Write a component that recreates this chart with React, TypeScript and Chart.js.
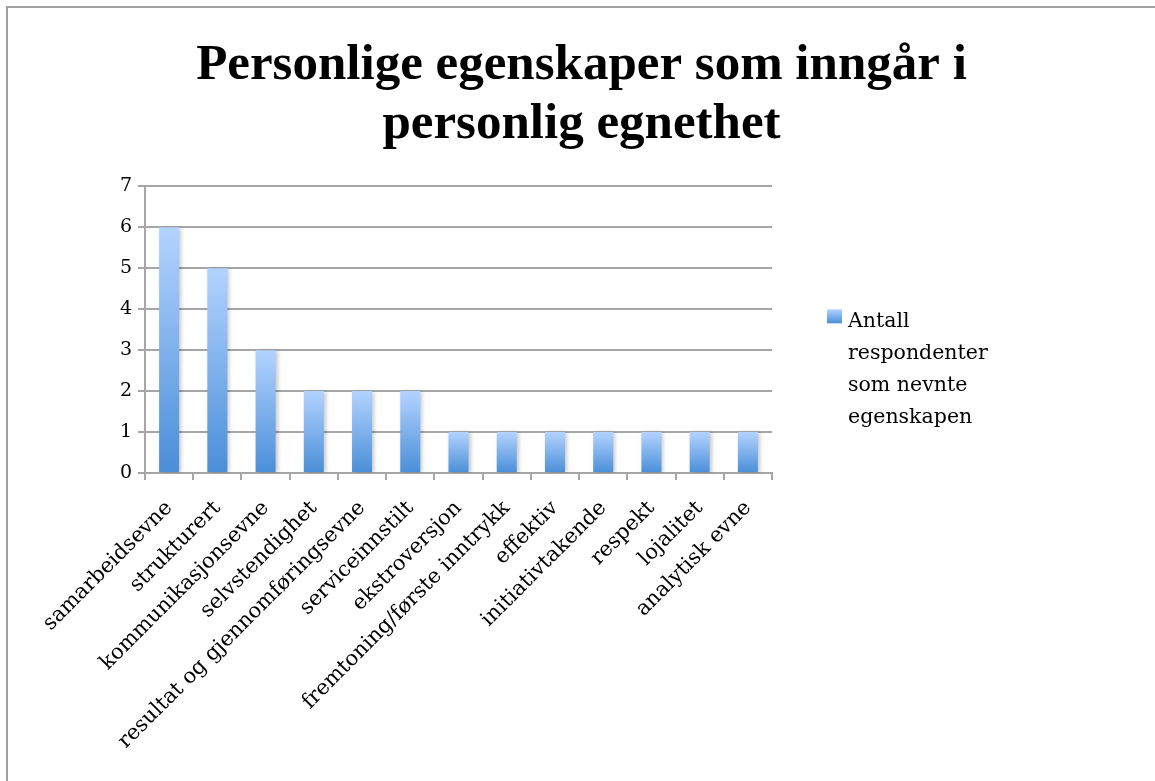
import React, { useEffect, useRef } from "react";
import { Chart, registerables } from "chart.js";

Chart.register(...registerables);

const categories = [
  "samarbeidsevne",
  "strukturert",
  "kommunikasjonsevne",
  "selvstendighet",
  "resultat og gjennomføringsevne",
  "serviceinnstilt",
  "ekstroversjon",
  "fremtoning/første inntrykk",
  "effektiv",
  "initiativtakende",
  "respekt",
  "lojalitet",
  "analytisk evne",
];
const values = [6, 5, 3, 2, 2, 2, 1, 1, 1, 1, 1, 1, 1];
const seriesLabel = "Antall respondenter som nevnte egenskapen";
const legendLines = ["Antall", "respondenter", "som nevnte", "egenskapen"];
const titleLines = ["Personlige egenskaper som inngår i", "personlig egnethet"];
const yMin = 0;
const yMax = 7;
const yStep = 1;

const GRID = "#a6a6a6";
const TOP_COLOR = "#b3d3ff";
const BOTTOM_COLOR = "#4a8ed8";
const SMALL_FONT = "'DejaVu Serif', serif";

const shadowPlugin = {
  id: "barShadow",
  beforeDatasetsDraw(chart: any) {
    const c = chart.ctx;
    c.save();
    c.shadowColor = "rgba(0,0,0,0.22)";
    c.shadowBlur = 4;
    c.shadowOffsetX = 2;
    c.shadowOffsetY = 1;
  },
  afterDatasetsDraw(chart: any) {
    chart.ctx.restore();
  },
};

const legendPlugin = {
  id: "wrappedLegend",
  afterDraw(chart: any) {
    const c = chart.ctx;
    const area = chart.chartArea;
    const boxX = area.right + 55;
    const boxY = area.top + 123;
    const g = c.createLinearGradient(0, boxY, 0, boxY + 14);
    g.addColorStop(0, TOP_COLOR);
    g.addColorStop(1, BOTTOM_COLOR);
    c.save();
    c.fillStyle = g;
    c.fillRect(boxX, boxY, 15, 14);
    c.fillStyle = "#000";
    c.font = `20.5px ${SMALL_FONT}`;
    c.textBaseline = "alphabetic";
    c.textAlign = "left";
    legendLines.forEach((line, i) => {
      c.fillText(line, boxX + 21, boxY + 18 + i * 32);
    });
    c.restore();
  },
};

export default function App() {
  const ref = useRef<HTMLCanvasElement | null>(null);

  useEffect(() => {
    if (!ref.current) return;
    const chart = new Chart(ref.current, {
      type: "bar",
      data: {
        labels: categories,
        datasets: [
          {
            label: seriesLabel,
            data: values,
            yAxisID: "y",
            barPercentage: 0.415,
            categoryPercentage: 1,
            backgroundColor: (ctx: any) => {
              const ch = ctx.chart;
              if (!ch.chartArea || ctx.type !== "data") return BOTTOM_COLOR;
              const y = ch.scales.y;
              const top = y.getPixelForValue(ctx.raw);
              const bottom = y.getPixelForValue(0);
              const g = ch.ctx.createLinearGradient(0, top, 0, bottom);
              g.addColorStop(0, TOP_COLOR);
              g.addColorStop(1, BOTTOM_COLOR);
              return g;
            },
            borderWidth: 0,
          },
        ],
      },
      options: {
        responsive: false,
        animation: false,
        layout: { padding: 0 },
        plugins: {
          legend: { display: false },
          tooltip: { enabled: false },
          title: {
            display: true,
            text: titleLines,
            color: "#000",
            font: { family: "'Liberation Serif', serif", size: 51, weight: "bold", lineHeight: 1.16 },
            padding: { top: 28, bottom: 32 },
          },
        },
        scales: {
          x: {
            grid: {
              display: true,
              drawOnChartArea: false,
              drawTicks: true,
              tickLength: 7,
              offset: true,
              color: GRID,
              lineWidth: 2,
            },
            border: { display: true, color: GRID, width: 2 },
            ticks: {
              color: "#000",
              font: { family: SMALL_FONT, size: 21 },
              maxRotation: 45,
              minRotation: 45,
              autoSkip: false,
              padding: 16,
            },
            afterFit: (scale: any) => {
              scale.height = 308;
            },
          },
          y: {
            min: yMin,
            max: yMax,
            grid: { color: GRID, lineWidth: 2, tickLength: 7 },
            border: { display: true, color: GRID, width: 2 },
            ticks: {
              stepSize: yStep,
              color: "#000",
              font: { family: SMALL_FONT, size: 19 },
              padding: 6,
            },
            afterFit: (scale: any) => {
              scale.width = 137;
            },
          },
          legendSpace: {
            type: "linear",
            position: "right",
            display: true,
            grid: { display: false, drawTicks: false },
            border: { display: false },
            ticks: { display: false },
            afterFit: (scale: any) => {
              scale.width = 383;
            },
          },
        },
      },
      plugins: [shadowPlugin, legendPlugin],
    });
    return () => chart.destroy();
  }, []);

  return (
    <div
      style={{
        position: "absolute",
        left: 6,
        top: 6,
        width: 1147,
        height: 773,
        borderTop: "2px solid #a0a0a0",
        borderLeft: "2px solid #a0a0a0",
        background: "#fff",
      }}
    >
      <canvas ref={ref} width={1147} height={773} style={{ display: "block" }} />
    </div>
  );
}
